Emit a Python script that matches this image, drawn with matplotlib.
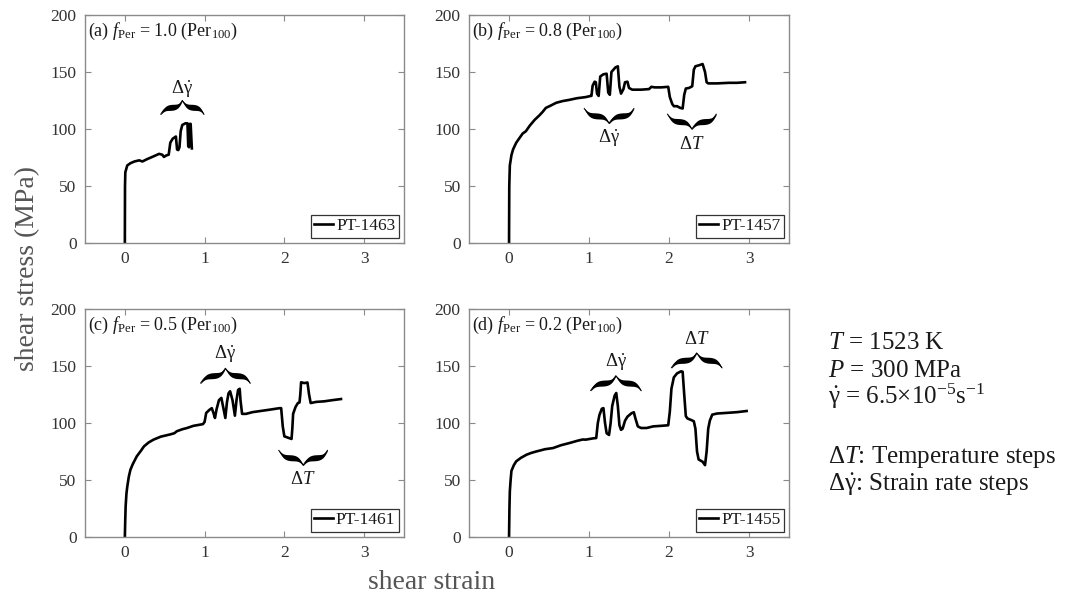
import numpy as np
import matplotlib
matplotlib.use("Agg")
import matplotlib.pyplot as plt

plt.rcParams.update({
    "font.family": ["Liberation Serif", "DejaVu Serif"],
    "mathtext.fontset": "custom",
    "mathtext.rm": "Liberation Serif",
    "mathtext.it": "Liberation Serif:italic",
    "mathtext.bf": "Liberation Serif:bold",
})

# ---- stress-strain records (shear strain, shear stress in MPa) ----
pt1463_strain = [0, 0.002, 0.006, 0.03, 0.07, 0.12, 0.18, 0.22, 0.28, 0.36, 0.43,
                 0.47, 0.49, 0.52, 0.55, 0.57, 0.60, 0.64, 0.655, 0.67, 0.685,
                 0.70, 0.72, 0.76, 0.785, 0.795, 0.805, 0.815, 0.825, 0.84]
pt1463_stress = [0, 50, 62, 68, 70, 71.5, 72.5, 71.5, 73.6, 76, 78.2,
                 77.4, 75.5, 76.8, 77.5, 88, 91.5, 93.4, 82, 81.5, 84,
                 98, 103.5, 105, 105, 85, 84, 104.5, 104.5, 83]

pt1457_strain = [0, 0.003, 0.01, 0.03, 0.05, 0.09, 0.13, 0.17, 0.21, 0.26, 0.32,
                 0.38, 0.42, 0.46, 0.52, 0.59, 0.67, 0.75, 0.85, 0.96, 1.02,
                 1.03, 1.045, 1.07, 1.085, 1.10, 1.12, 1.14, 1.18, 1.22, 1.24,
                 1.26, 1.28, 1.33, 1.36, 1.38, 1.40, 1.43, 1.45, 1.48, 1.50,
                 1.54, 1.65, 1.75, 1.78, 1.82, 1.90, 1.99, 2.01, 2.04, 2.06,
                 2.10, 2.14, 2.17, 2.19, 2.21, 2.25, 2.29, 2.31, 2.33, 2.38,
                 2.42, 2.45, 2.47, 2.49, 2.60, 2.75, 2.85, 2.95]
pt1457_stress = [0, 50, 68, 77, 82, 88, 92, 96, 98, 103, 108,
                 112, 115, 118.5, 120.5, 123, 124.5, 125.5, 127, 128, 129,
                 129, 138, 141.5, 141, 131, 129, 146, 148, 148.5, 132,
                 130, 150, 154, 155, 137, 131, 135, 141, 141.5, 136,
                 134.5, 134.5, 135, 137, 136.5, 136.5, 137, 128, 122, 120,
                 120, 118.5, 118, 130, 135.5, 136, 137.5, 152, 155, 156,
                 157, 150, 141, 140, 140, 140.5, 140.5, 141]

pt1461_strain = [0, 0.005, 0.01, 0.02, 0.03, 0.05, 0.07, 0.10, 0.15, 0.20, 0.24,
                 0.30, 0.36, 0.45, 0.57, 0.62, 0.65, 0.72, 0.78, 0.86, 0.94,
                 0.98, 1.00, 1.02, 1.06, 1.09, 1.11, 1.13, 1.15, 1.18, 1.21,
                 1.23, 1.26, 1.28, 1.30, 1.32, 1.35, 1.38, 1.40, 1.42, 1.44,
                 1.45, 1.47, 1.52, 1.60, 1.70, 1.80, 1.94, 1.96, 1.98, 2.00,
                 2.05, 2.09, 2.10, 2.11, 2.14, 2.17, 2.19, 2.20, 2.21, 2.25,
                 2.29, 2.31, 2.33, 2.40, 2.50, 2.60, 2.71]
pt1461_stress = [0, 15, 27, 38, 44, 53, 59, 64, 70.8, 75.5, 79.5,
                 83, 85.4, 88, 90, 91, 92.7, 94.5, 95.6, 97.5, 98.5,
                 99, 101, 108.8, 111.5, 113, 109, 104.4, 112, 120, 122,
                 115, 104.4, 118, 126, 127.8, 120, 106.4, 120, 129, 130,
                 120, 108, 108, 109.5, 110.5, 111.5, 113, 113, 97, 88.3,
                 87, 86, 95, 108, 114, 117.5, 118, 125, 135.7, 135,
                 135.5, 125, 117.5, 118.5, 119, 120, 121]

pt1455_strain = [0, 0.005, 0.01, 0.02, 0.03, 0.06, 0.09, 0.15, 0.22, 0.28, 0.34,
                 0.45, 0.55, 0.65, 0.76, 0.86, 0.92, 0.96, 1.05, 1.09, 1.11,
                 1.13, 1.16, 1.18, 1.20, 1.22, 1.25, 1.27, 1.29, 1.32, 1.34,
                 1.36, 1.38, 1.40, 1.42, 1.45, 1.48, 1.53, 1.56, 1.58, 1.61,
                 1.65, 1.72, 1.80, 1.90, 1.99, 2.01, 2.03, 2.06, 2.10, 2.15,
                 2.17, 2.19, 2.21, 2.23, 2.28, 2.31, 2.33, 2.35, 2.37, 2.42,
                 2.45, 2.47, 2.49, 2.51, 2.54, 2.60, 2.75, 2.85, 2.97]
pt1455_stress = [0, 25, 40, 50, 58, 63, 66.4, 69.5, 72.2, 73.8, 75,
                 77, 78, 80.5, 82.5, 84.5, 85.5, 85.4, 86.5, 86.8, 100,
                 107, 112.5, 113, 100, 91, 89.5, 100, 115, 124, 126.3,
                 115, 98, 94, 95, 102, 105.5, 108.5, 109.4, 104, 97,
                 95.6, 95.6, 97, 97.5, 98, 110, 130, 140, 143.5, 145.3,
                 145, 125, 106, 104, 102.5, 101.5, 95, 75, 68, 66,
                 63, 75, 95, 102, 107.3, 108.3, 109, 109.5, 110.5]

panel_tags = ["(a)", "(b)", "(c)", "(d)"]
per_fractions = ["1.0", "0.8", "0.5", "0.2"]
sample_ids = ["PT-1463", "PT-1457", "PT-1461", "PT-1455"]
strains = [pt1463_strain, pt1457_strain, pt1461_strain, pt1455_strain]
stresses = [pt1463_stress, pt1457_stress, pt1461_stress, pt1455_stress]

x_ticks = [0, 1, 2, 3]
y_ticks = [0, 50, 100, 150, 200]

GDOT = r"$\Delta\dot{\mathrm{\gamma}}$"
DT = r"$\Delta T$"

# brace annotations per panel: (x start, x end, y at ends, y at tip, label, label y)
braces = [
    [(0.45, 0.99, 113, 125, GDOT, 135)],
    [(0.94, 1.56, 118, 105, GDOT, 92), (1.98, 2.59, 113, 100, DT, 86)],
    [(0.95, 1.57, 135, 148, GDOT, 160), (1.93, 2.54, 76, 63, DT, 50)],
    [(1.02, 1.65, 128.5, 141.5, GDOT, 153), (2.03, 2.66, 148.5, 161.5, DT, 173)],
]

axes_rects = [
    [0.0781, 0.5916, 0.2932, 0.3832],
    [0.4311, 0.5916, 0.2941, 0.3832],
    [0.0781, 0.0975, 0.2932, 0.3832],
    [0.4311, 0.0975, 0.2941, 0.3832],
]

SPINE = "#8a8a8a"
TICKTXT = "#333333"


def curly_brace(ax, x0, x1, y_end, y_tip, tmax=4.6, tmin=0.6, n=200, beta=10.0):
    """Calligraphic horizontal brace: thick arms, thin hooked ends and tip."""
    u = np.linspace(0.0, 1.0, n)
    s = 1.0 / (1.0 + np.exp(-beta * u)) + 1.0 / (1.0 + np.exp(-beta * (u - 1.0))) - 0.5
    half = (x1 - x0) / 2.0
    xl = x0 + u * half
    xr = x1 - u * half
    yc = y_end + (y_tip - y_end) * s
    th = tmax * np.sin(np.pi * u) ** 0.8 + tmin
    x = np.concatenate([xl, xr[::-1]])
    y = np.concatenate([yc, yc[::-1]])
    t = np.concatenate([th, th[::-1]])
    ax.fill_between(x, y - t / 2, y + t / 2, color="black", lw=0)
    ax.plot(x, y, color="black", lw=0.7)


fig = plt.figure(figsize=(10.88, 5.95), dpi=100)

for i in range(4):
    ax = fig.add_axes(axes_rects[i])
    ax.plot(strains[i], stresses[i], color="black", lw=1.9, label=sample_ids[i])
    ax.set_xlim(-0.5, 3.5)
    ax.set_ylim(0, 200)
    ax.set_xticks(x_ticks)
    ax.set_yticks(y_ticks)
    ax.tick_params(direction="in", top=True, right=True, length=4, width=0.8,
                   color=SPINE, labelcolor=TICKTXT, labelsize=12.5, pad=6)
    for sp in ax.spines.values():
        sp.set_color(SPINE)
        sp.set_linewidth(1.0)
    ax.text(0.010, 0.927,
            panel_tags[i] + r" $f_{\mathrm{Per}}$ = " + per_fractions[i] + r" (Per$_{100}$)",
            transform=ax.transAxes, ha="left", va="center", fontsize=13, color="#1a1a1a")
    for (bx0, bx1, by_end, by_tip, lab, ly) in braces[i]:
        curly_brace(ax, bx0, bx1, by_end, by_tip)
        ax.text((bx0 + bx1) / 2, ly, lab, ha="center", va="center",
                fontsize=13.5, color="#1a1a1a")
    leg = ax.legend(loc="lower right", fontsize=12.5, handlelength=1.1,
                    handletextpad=0.15, borderpad=0.2, borderaxespad=0.3,
                    fancybox=False, framealpha=1.0, edgecolor="#333333")
    leg.get_frame().set_linewidth(0.9)
    for txt in leg.get_texts():
        txt.set_color("#1a1a1a")

fig.text(0.025, 0.548, "shear stress (MPa)", rotation=90, ha="center", va="center",
         fontsize=20, color="#555555")
fig.text(0.397, 0.021, "shear strain", ha="center", va="center",
         fontsize=20, color="#555555")

cond_lines = [
    (0.4134, r"$T$ = 1523 K"),
    (0.3664, r"$P$ = 300 MPa"),
    (0.3210, r"$\dot{\mathrm{\gamma}}$ = 6.5×10$^{\mathregular{-5}}$s$^{\mathregular{-1}}$"),
    (0.2218, r"$\Delta T$: Temperature steps"),
    (0.1748, r"$\Delta\dot{\mathrm{\gamma}}$: Strain rate steps"),
]
for yy, s in cond_lines:
    fig.text(0.761, yy, s, ha="left", va="baseline", fontsize=18, color="#1a1a1a")

fig.savefig("out.png", dpi=100)
